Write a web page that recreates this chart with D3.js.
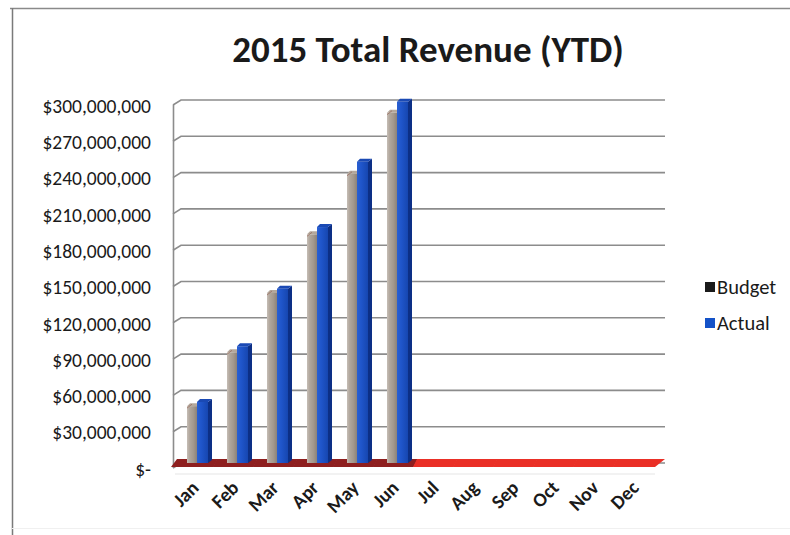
<!DOCTYPE html>
<html>
<head>
<meta charset="utf-8">
<script src="https://cdnjs.cloudflare.com/ajax/libs/d3/7.8.5/d3.min.js"></script>
<style>
  html, body { margin: 0; padding: 0; background: #fff; }
  svg { display: block; font-family: Carlito, Lato, "Open Sans", sans-serif; }
</style>
</head>
<body>
<svg id="chart" width="790" height="535"></svg>
<script>
// Monthly year-to-date revenue, budget vs actual
const months = ["Jan", "Feb", "Mar", "Apr", "May", "Jun", "Jul", "Aug", "Sep", "Oct", "Nov", "Dec"];
const budget = [47000000, 91500000, 140500000, 189000000, 239000000, 289500000, null, null, null, null, null, null];
const actual = [50500000, 96500000, 144000000, 195000000, 249000000, 298500000, null, null, null, null, null, null];
const seriesNames = ["Budget", "Actual"];
const yTicks = [0, 30000000, 60000000, 90000000, 120000000, 150000000, 180000000, 210000000, 240000000, 270000000, 300000000];

const svg = d3.select("#chart");

// frame of the chart object
svg.append("line").attr("x1", 10).attr("x2", 790).attr("y1", 8.5).attr("y2", 8.5)
  .attr("stroke", "#8a8a8a").attr("stroke-width", 1.5);
svg.append("line").attr("x1", 12.5).attr("x2", 12.5).attr("y1", 8).attr("y2", 535)
  .attr("stroke", "#7a7a7a").attr("stroke-width", 1.5);
svg.append("line").attr("x1", 12).attr("x2", 790).attr("y1", 528.5).attr("y2", 528.5)
  .attr("stroke", "#f0f0f0").attr("stroke-width", 1);

// title
svg.append("text").attr("x", 428).attr("y", 62).attr("text-anchor", "middle")
  .attr("font-size", 37).attr("font-weight", 700).attr("fill", "#1a1a1a")
  .text("2015 Total Revenue (YTD)");

// scales
const x = d3.scaleBand().domain(months).range([181, 661]).paddingInner(0).paddingOuter(0);
const y = d3.scaleLinear().domain([0, 300000000]).range([463, 100]);

const depthX = 8, depthY = 5; // side-wall depth of the 3-D plot box

const defs = svg.append("defs");
function hGrad(id, stops) {
  const g = defs.append("linearGradient").attr("id", id).attr("x1", "0").attr("x2", "1").attr("y1", "0").attr("y2", "0");
  stops.forEach(([o, c]) => g.append("stop").attr("offset", o).attr("stop-color", c));
}
hGrad("gBudget", [[0, "#c6beb6"], [0.25, "#b2a89e"], [0.65, "#a3988d"], [1, "#8c8278"]]);
hGrad("gActual", [[0, "#2a5fd2"], [0.4, "#1f55ca"], [1, "#1646b0"]]);

// gridlines on the back wall, with the short slant on the side wall
const grid = svg.append("g");
yTicks.forEach(t => {
  const gy = y(t);
  grid.append("path")
    .attr("d", `M${x.range()[0] - depthX},${gy + depthY} L${x.range()[0]},${gy} L${x.range()[1] + 4},${gy}`)
    .attr("fill", "none").attr("stroke", "#8c8c8c").attr("stroke-width", 1.6);
});
// side wall edge
grid.append("line")
  .attr("x1", x.range()[0] - depthX + 0.5).attr("x2", x.range()[0] - depthX + 0.5)
  .attr("y1", y(300000000) + depthY).attr("y2", y(0) + depthY)
  .attr("stroke", "#8c8c8c").attr("stroke-width", 1.6);

// y axis labels
const yAxis = d3.axisLeft(y).tickValues(yTicks).tickSize(0).tickPadding(0)
  .tickFormat(d => d === 0 ? "$-" : "$" + d3.format(",")(d));
const yg = svg.append("g").attr("transform", `translate(151,6)`).call(yAxis);
yg.select(".domain").remove();
yg.selectAll("text").attr("font-size", 19.5).attr("fill", "#1a1a1a").attr("font-family", "Carlito, Lato, sans-serif");

// floor of the plot, coloured by month
const floor = svg.append("g");
months.forEach((m, i) => {
  const x0 = x(m), x1 = x0 + x.bandwidth();
  const has = budget[i] !== null || actual[i] !== null;
  const top = y(0) - 4, bot = y(0) + 4;
  const first = i === 0, last = i === months.length - 1;
  const p = [
    [x0 - 4, top],
    [last ? x1 + 4 : x1 - 4 + 0.6, top],
    [last ? x1 - 6 : x1 - 8 + 0.6, bot],
    [first ? x0 - 10 : x0 - 8, bot]
  ];
  floor.append("path").attr("d", "M" + p.join("L") + "Z")
    .attr("fill", has ? "#8e1f1f" : "#ea2f26");
});
svg.append("line").attr("x1", x.range()[0] - 6).attr("x2", x.range()[1] - 6)
  .attr("y1", y(0) + 11).attr("y2", y(0) + 11).attr("stroke", "#e6e6e6").attr("stroke-width", 1.2);

// 3-D columns
const bars = svg.append("g");
const bw = 10, aw = 11, side = 4, cap = 3;
months.forEach((m, i) => {
  const bx = x(m) + 6;
  if (budget[i] !== null) {
    const top = y(budget[i]);
    bars.append("rect").attr("x", bx).attr("y", top).attr("width", bw).attr("height", y(0) - top)
      .attr("fill", "url(#gBudget)");
    bars.append("path")
      .attr("d", `M${bx},${top} L${bx + cap},${top - cap} L${bx + bw + cap},${top - cap} L${bx + bw},${top} Z`)
      .attr("fill", "#b4a89c");
    bars.append("path")
      .attr("d", `M${bx},${top + 2} L${bx + 5},${top - 2}`)
      .attr("stroke", "#8a4a3a").attr("stroke-width", 1).attr("opacity", 0.5);
  }
  if (actual[i] !== null) {
    const ax = bx + bw;
    const top = y(actual[i]);
    bars.append("rect").attr("x", ax).attr("y", top).attr("width", aw).attr("height", y(0) - top)
      .attr("fill", "url(#gActual)");
    bars.append("path")
      .attr("d", `M${ax + aw},${top} L${ax + aw + side},${top - cap} L${ax + aw + side},${y(0) - cap} L${ax + aw},${y(0)} Z`)
      .attr("fill", "#0c2f86");
    bars.append("path")
      .attr("d", `M${ax},${top} L${ax + cap},${top - cap} L${ax + aw + side},${top - cap} L${ax + aw},${top} Z`)
      .attr("fill", "#1a49b4");
  }
});

// month labels, rotated
const xl = svg.append("g");
months.forEach(m => {
  const cx = x(m) + x.bandwidth() / 2 - 1;
  xl.append("text")
    .attr("transform", `translate(${cx},${489}) rotate(-45)`)
    .attr("text-anchor", "end")
    .attr("font-size", 19.5).attr("font-weight", 700).attr("fill", "#1a1a1a")
    .text(m);
});

// legend
const legendColors = ["#1a1a1a", "#1452c8"];
const lg = svg.append("g");
seriesNames.forEach((s, i) => {
  const ly = 287 + i * 36;
  lg.append("rect").attr("x", 705).attr("y", ly - 5).attr("width", 10).attr("height", 10).attr("fill", legendColors[i]);
  lg.append("text").attr("x", 717).attr("y", ly + 6.5).attr("font-size", 20.5)
    .attr("fill", "#1a1a1a").text(s);
});
</script>
</body>
</html>
